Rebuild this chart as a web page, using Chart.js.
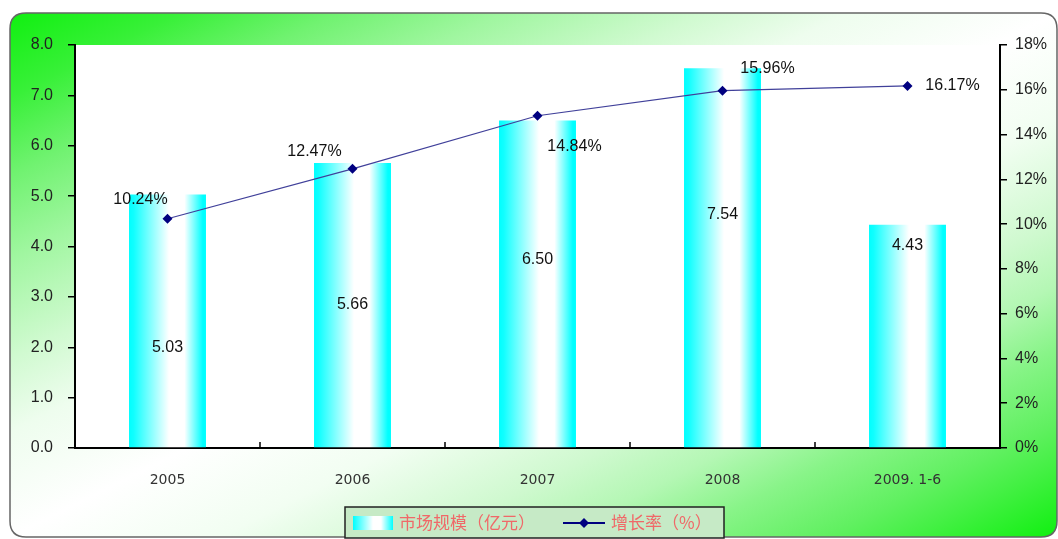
<!DOCTYPE html>
<html>
<head>
<meta charset="utf-8">
<script src="https://cdn.jsdelivr.net/npm/chart.js@4.4.0/dist/chart.umd.min.js"></script>
<style>
html,body{margin:0;padding:0;background:#fff;}
#wrap{width:1058px;height:539px;position:relative;}
</style>
</head>
<body>
<div id="wrap"><canvas id="c"></canvas></div>
<script>
const categories = ['2005', '2006', '2007', '2008', '2009. 1-6'];
const marketSize = [5.03, 5.66, 6.50, 7.54, 4.43];
const growthRate = [10.24, 12.47, 14.84, 15.96, 16.17];
const leftTicks = [0, 1, 2, 3, 4, 5, 6, 7, 8];
const rightTicks = [0, 2, 4, 6, 8, 10, 12, 14, 16, 18];
const legendLabels = ['市场规模（亿元）', '增长率（%）'];

// label placement styles (pixel offsets)
const barLabelOffsetY = [27, 0, -24, -43, -90];
const lineLabelOffset = [[-27, -19], [-38, -17], [37, 31], [45, -22], [45, 0]];

const BAR_FRAC = 0.416;

function barGradient(ctx) {
  const chart = ctx.chart;
  const area = chart.chartArea;
  if (!area || !chart.scales.x) return '#00ffff';
  const x = chart.scales.x.getPixelForValue(ctx.dataIndex);
  const half = (area.width / categories.length) * BAR_FRAC / 2;
  const g = chart.ctx.createLinearGradient(x - half, 0, x + half, 0);
  g.addColorStop(0, '#00ffff');
  g.addColorStop(0.06, '#10ffff');
  g.addColorStop(0.52, '#ffffff');
  g.addColorStop(0.72, '#ffffff');
  g.addColorStop(0.96, '#00ffff');
  g.addColorStop(1, '#00ffff');
  return g;
}

function roundRectPath(c, x, y, w, h, r) {
  c.beginPath();
  c.moveTo(x + r, y);
  c.lineTo(x + w - r, y);
  c.quadraticCurveTo(x + w, y, x + w, y + r);
  c.lineTo(x + w, y + h - r);
  c.quadraticCurveTo(x + w, y + h, x + w - r, y + h);
  c.lineTo(x + r, y + h);
  c.quadraticCurveTo(x, y + h, x, y + h - r);
  c.lineTo(x, y + r);
  c.quadraticCurveTo(x, y, x + r, y);
  c.closePath();
}

const bgPlugin = {
  id: 'bg',
  beforeDraw(chart) {
    const c = chart.ctx;
    const W = chart.width, H = chart.height;
    c.save();
    c.fillStyle = '#ffffff';
    c.fillRect(0, 0, W, H);
    const x0 = 10, y0 = 13, w = 1047, h = 524;
    roundRectPath(c, x0, y0, w, h, 16);
    c.save();
    c.translate(x0, y0);
    c.scale(w, h);
    const g = c.createLinearGradient(0, 0, 1, 1);
    g.addColorStop(0, '#10f010');
    g.addColorStop(0.08, '#38f038');
    g.addColorStop(0.155, '#70f270');
    g.addColorStop(0.235, '#a0f6a0');
    g.addColorStop(0.33, '#d0fad0');
    g.addColorStop(0.4, '#eefdee');
    g.addColorStop(0.5, '#ffffff');
    g.addColorStop(0.6, '#f2fef2');
    g.addColorStop(0.7, '#cff9cf');
    g.addColorStop(0.76, '#b4f7b4');
    g.addColorStop(0.82, '#88f488');
    g.addColorStop(0.89, '#60f060');
    g.addColorStop(0.93, '#44f044');
    g.addColorStop(1, '#10f010');
    c.fillStyle = g;
    c.fill();
    c.restore();
    c.lineWidth = 1.5;
    c.strokeStyle = '#666';
    c.stroke();
    const a = chart.chartArea;
    c.fillStyle = '#ffffff';
    c.fillRect(a.left, a.top, a.right - a.left, a.bottom - a.top);
    c.restore();
  },
  afterDraw(chart) {
    const c = chart.ctx;
    const a = chart.chartArea;
    const xs = chart.scales.x;
    c.save();
    // inward category boundary ticks on x axis
    c.strokeStyle = '#000';
    c.lineWidth = 1.5;
    for (let i = 1; i < categories.length; i++) {
      const px = (xs.getPixelForValue(i - 1) + xs.getPixelForValue(i)) / 2;
      c.beginPath();
      c.moveTo(px, a.bottom);
      c.lineTo(px, a.bottom - 6);
      c.stroke();
    }
    // data labels
    c.font = '16px "Liberation Sans", Arial, sans-serif';
    c.fillStyle = '#111';
    c.textAlign = 'center';
    c.textBaseline = 'middle';
    const barMeta = chart.getDatasetMeta(0);
    barMeta.data.forEach((el, i) => {
      const mid = (el.y + el.base) / 2;
      c.fillText(marketSize[i].toFixed(2), el.x, mid + barLabelOffsetY[i]);
    });
    const lineMeta = chart.getDatasetMeta(1);
    lineMeta.data.forEach((el, i) => {
      const o = lineLabelOffset[i];
      c.fillText(growthRate[i].toFixed(2) + '%', el.x + o[0], el.y + o[1]);
    });
    // legend
    const lx = 345, ly = 507, lw = 379, lh = 31;
    c.fillStyle = '#c6eac6';
    c.fillRect(lx, ly, lw, lh);
    c.strokeStyle = '#222';
    c.lineWidth = 1.5;
    c.strokeRect(lx, ly, lw, lh);
    const sx = 353, sw = 40, sy = 516, sh = 14;
    const sg = c.createLinearGradient(sx, 0, sx + sw, 0);
    sg.addColorStop(0, '#00ffff');
    sg.addColorStop(0.5, '#ffffff');
    sg.addColorStop(0.7, '#ffffff');
    sg.addColorStop(1, '#00ffff');
    c.fillStyle = sg;
    c.fillRect(sx, sy, sw, sh);
    c.font = '17px "Noto Sans CJK SC", sans-serif';
    c.fillStyle = '#f06868';
    c.textAlign = 'left';
    c.textBaseline = 'middle';
    c.fillText(legendLabels[0], 399, 523);
    c.strokeStyle = '#000080';
    c.lineWidth = 2;
    c.beginPath();
    c.moveTo(563, 523);
    c.lineTo(605, 523);
    c.stroke();
    c.fillStyle = '#000080';
    c.beginPath();
    c.moveTo(584, 518);
    c.lineTo(589, 523);
    c.lineTo(584, 528);
    c.lineTo(579, 523);
    c.closePath();
    c.fill();
    c.fillStyle = '#f06868';
    c.fillText(legendLabels[1], 611, 523);
    c.restore();
  }
};

new Chart(document.getElementById('c'), {
  data: {
    labels: categories,
    datasets: [
      {
        type: 'bar',
        label: legendLabels[0],
        data: marketSize,
        yAxisID: 'y',
        backgroundColor: barGradient,
        borderWidth: 0,
        barPercentage: BAR_FRAC,
        categoryPercentage: 1.0,
        order: 2
      },
      {
        type: 'line',
        label: legendLabels[1],
        data: growthRate,
        yAxisID: 'y1',
        borderColor: '#40409a',
        borderWidth: 1.2,
        pointStyle: 'rectRot',
        pointRadius: 5,
        pointBackgroundColor: '#000080',
        pointBorderColor: '#000080',
        pointBorderWidth: 0,
        tension: 0,
        order: 1
      }
    ]
  },
  options: {
    responsive: true,
    maintainAspectRatio: false,
    animation: false,
    layout: { padding: { top: 45, left: 0, right: 0, bottom: 0 } },
    plugins: { legend: { display: false }, tooltip: { enabled: false } },
    scales: {
      x: {
        offset: true,
        grid: { display: false, drawOnChartArea: false },
        border: { display: true, color: '#000', width: 2 },
        ticks: { color: '#333', font: { family: '"DejaVu Sans", sans-serif', size: 14 }, padding: 16 },
        afterFit(s) { s.height = 91; }
      },
      y: {
        position: 'left',
        min: 0, max: 8,
        afterBuildTicks(s) { s.ticks = leftTicks.map(v => ({ value: v })); },
        grid: { drawOnChartArea: false, tickLength: 7, color: '#000', lineWidth: 1.5 },
        border: { display: true, color: '#000', width: 2 },
        ticks: {
          color: '#222', padding: 15,
          font: { family: '"Liberation Sans", Arial, sans-serif', size: 16 },
          callback: v => Number(v).toFixed(1)
        },
        afterFit(s) { s.width = 75; }
      },
      y1: {
        position: 'right',
        min: 0, max: 18,
        afterBuildTicks(s) { s.ticks = rightTicks.map(v => ({ value: v })); },
        grid: { drawOnChartArea: false, tickLength: 7, color: '#000', lineWidth: 1.5 },
        border: { display: true, color: '#000', width: 2 },
        ticks: {
          color: '#222', padding: 8,
          font: { family: '"Liberation Sans", Arial, sans-serif', size: 16 },
          callback: v => v + '%'
        },
        afterFit(s) { s.width = 58; }
      }
    }
  },
  plugins: [bgPlugin]
});
</script>
</body>
</html>
